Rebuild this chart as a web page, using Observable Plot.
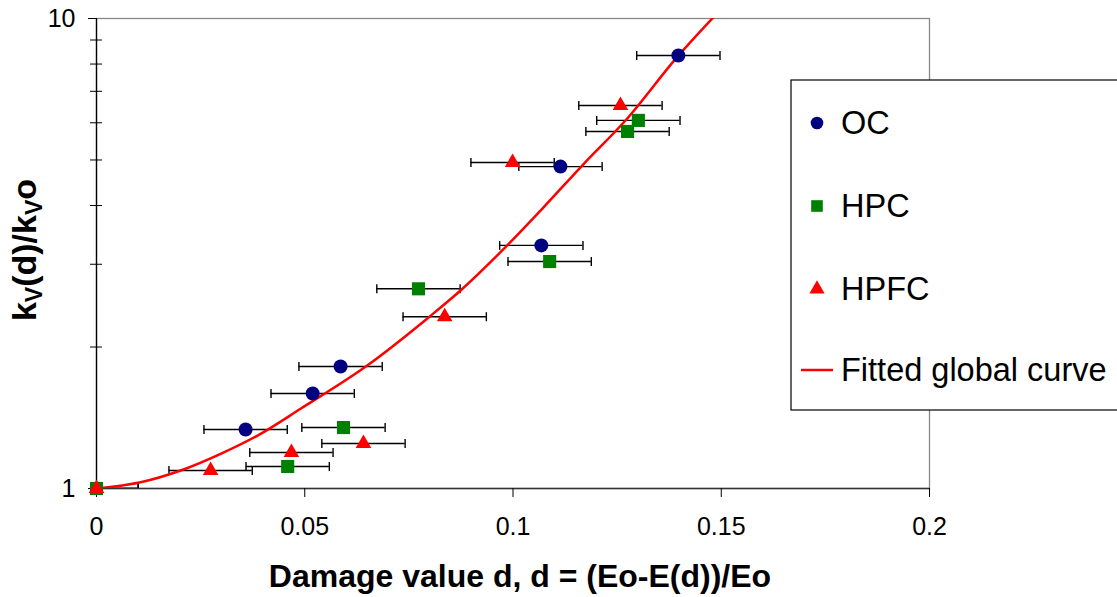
<!DOCTYPE html>
<html><head><meta charset="utf-8">
<script src="https://cdn.jsdelivr.net/npm/d3@7"></script>
<script src="https://cdn.jsdelivr.net/npm/@observablehq/plot@0.6"></script>
<style>
body{margin:0;background:#fff}
#chart{position:relative;width:1117px;height:597px;overflow:hidden;background:#fff}
</style>
</head><body><div id="chart"></div>
<script>
// ---- data ----
const ocD   = [0.0358, 0.0519, 0.0586, 0.1068, 0.1114, 0.1397];
const ocK   = [1.335, 1.593, 1.818, 3.29, 4.84, 8.34];
const hpcD  = [0, 0.0459, 0.0593, 0.0773, 0.1088, 0.1275, 0.1301];
const hpcK  = [1, 1.114, 1.348, 2.66, 3.04, 5.75, 6.07];
const hpfcD = [0, 0.0274, 0.0468, 0.0641, 0.0836, 0.0999, 0.1258];
const hpfcK = [1, 1.092, 1.193, 1.247, 2.32, 4.94, 6.53];
const errD  = 0.01;
const curveD = [0, 0.0106, 0.0202, 0.0298, 0.0394, 0.0490, 0.065, 0.0798, 0.0874, 0.097, 0.107, 0.117, 0.127, 0.1394, 0.1492];
const curveK = [1, 1.031, 1.092, 1.185, 1.307, 1.478, 1.827, 2.315, 2.638, 3.183, 3.936, 4.908, 6.067, 8.276, 10.3];
const xTicks = [0, 0.05, 0.1, 0.15, 0.2];
const xTickLabels = ["0", "0.05", "0.1", "0.15", "0.2"];
const yTicks = [1, 10];
const yTickLabels = ["1", "10"];
const yMinor = [2, 3, 4, 5, 6, 7, 8, 9];
const seriesNames  = ["OC", "HPC", "HPFC", "Fitted global curve"];
const seriesColors = ["#000080", "#008000", "#ff0000", "#ff0000"];
const xTitle = "Damage value d, d = (Eo-E(d))/Eo";

// ---- tables ----
const pts = [];
ocD.forEach((d, i) => pts.push({s: seriesNames[0], d, k: ocK[i]}));
hpcD.forEach((d, i) => pts.push({s: seriesNames[1], d, k: hpcK[i]}));
hpfcD.forEach((d, i) => pts.push({s: seriesNames[2], d, k: hpfcK[i]}));
const curve = curveD.map((d, i) => ({d, k: curveK[i]}));

const capSymbol = {draw(ctx, size) { const h = Math.sqrt(size / Math.PI); ctx.moveTo(0, -h); ctx.lineTo(0, h); }};
const font = "Liberation Sans, Arial, sans-serif";

const chart = Plot.plot({
  width: 1117, height: 597,
  marginLeft: 96, marginRight: 188, marginTop: 18, marginBottom: 109,
  style: {fontFamily: font, color: "black", background: "white", overflow: "visible"},
  x: {domain: [0, 0.2]},
  y: {type: "log", domain: [1, 10]},
  marks: [
    Plot.frame({stroke: "#888", strokeWidth: 1.3}),
    Plot.ruleX([0], {stroke: "black", strokeWidth: 1.3}),
    Plot.ruleY([1], {stroke: "#333", strokeWidth: 1.3}),
    Plot.axisX({ticks: xTicks, tickSize: 9, tickPadding: 20, fontSize: 25, label: null,
      tickFormat: v => xTickLabels[xTicks.indexOf(v)]}),
    Plot.axisY({ticks: yTicks, tickSize: 8, tickPadding: 13, fontSize: 25, label: null,
      tickFormat: v => yTickLabels[yTicks.indexOf(v)]}),
    Plot.axisY({ticks: yMinor, tickSize: 12, dx: 6, label: null, tickFormat: () => ""}),
    Plot.ruleY(pts, {y: "k", x1: p => p.d - errD, x2: p => p.d + errD, stroke: "black", strokeWidth: 1.4, clip: true}),
    Plot.dot(pts, {x: p => p.d - errD, y: "k", symbol: capSymbol, r: 4.5, stroke: "black", strokeWidth: 1.4, fill: "none", clip: true}),
    Plot.dot(pts, {x: p => p.d + errD, y: "k", symbol: capSymbol, r: 4.5, stroke: "black", strokeWidth: 1.4, fill: "none", clip: true}),
    Plot.line(curve, {x: "d", y: "k", stroke: seriesColors[3], strokeWidth: 2.5, curve: "monotone-x", clip: true}),
    Plot.dot(pts.filter(p => p.s === seriesNames[0]), {x: "d", y: "k", symbol: "circle", r: 7, fill: seriesColors[0]}),
    Plot.dot(pts.filter(p => p.s === seriesNames[1]), {x: "d", y: "k", symbol: "square", r: 7.4, fill: seriesColors[1]}),
    Plot.dot(pts.filter(p => p.s === seriesNames[2]), {x: "d", y: "k", symbol: "triangle", r: 5.8, fill: seriesColors[2]})
  ]
});
document.getElementById("chart").appendChild(chart);

// ---- titles and legend ----
const svg = d3.select(chart);
svg.append("text").attr("x", 520).attr("y", 587).attr("text-anchor", "middle")
  .attr("font-family", font).attr("font-size", 32).attr("font-weight", "bold").attr("fill", "black").text(xTitle);

const yt = svg.append("text").attr("transform", "translate(36,250) rotate(-90)").attr("text-anchor", "middle")
  .attr("font-family", font).attr("font-size", 34).attr("font-weight", "bold").attr("fill", "black");
yt.append("tspan").text("k");
yt.append("tspan").attr("font-size", 23).attr("dy", 6).text("V");
yt.append("tspan").attr("dy", -6).text("(d)/k");
yt.append("tspan").attr("font-size", 23).attr("dy", 6).text("V");
yt.append("tspan").attr("dy", -6).text("o");

const lg = svg.append("g");
lg.append("rect").attr("x", 791).attr("y", 80).attr("width", 340).attr("height", 330)
  .attr("fill", "white").attr("stroke", "black").attr("stroke-width", 1.2);
const rows = [123, 206, 289, 370];
const syms = [d3.symbolCircle, d3.symbolSquare, d3.symbolTriangle];
const symSizes = [125, 135, 100];
seriesNames.forEach((name, i) => {
  if (i < 3) {
    lg.append("path").attr("transform", `translate(817,${rows[i]})`)
      .attr("d", d3.symbol(syms[i], symSizes[i])()).attr("fill", seriesColors[i]);
  } else {
    lg.append("line").attr("x1", 801).attr("x2", 833).attr("y1", rows[i]).attr("y2", rows[i])
      .attr("stroke", seriesColors[i]).attr("stroke-width", 2.5);
  }
  lg.append("text").attr("x", 841).attr("y", rows[i] + 11).attr("text-anchor", "start").attr("font-family", font)
    .attr("font-size", 32.5).attr("fill", "black").text(name);
});
</script>
</body></html>
